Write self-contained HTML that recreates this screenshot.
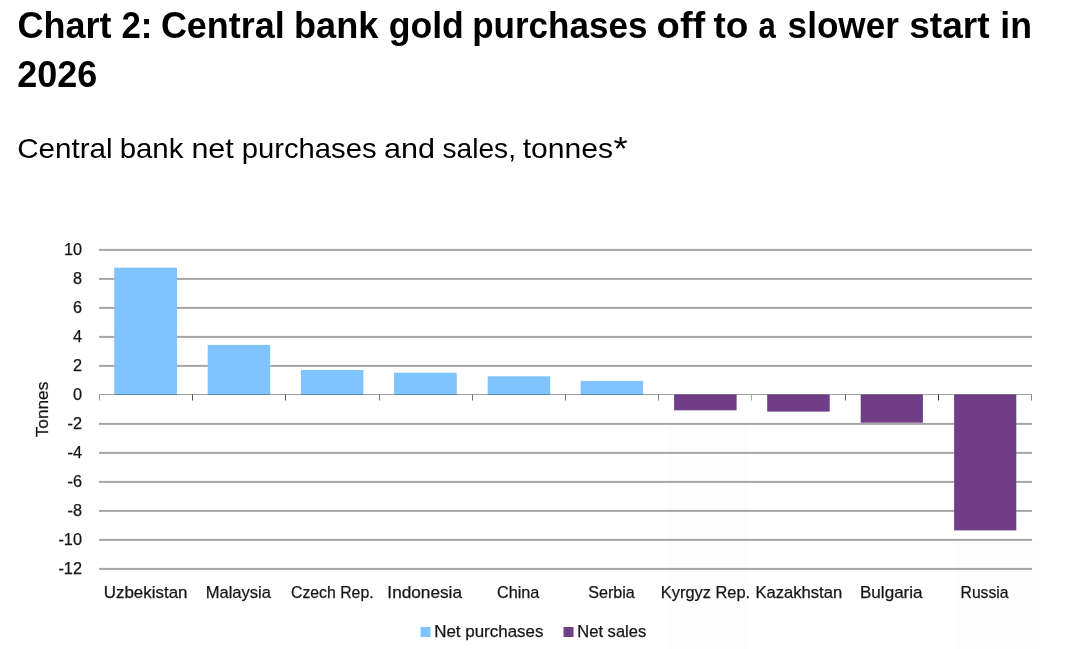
<!DOCTYPE html>
<html><head><meta charset="utf-8"><title>Chart 2</title>
<style>
html,body{margin:0;padding:0;background:#fff;}
body{width:1067px;height:649px;overflow:hidden;font-family:"Liberation Sans",sans-serif;}
svg{display:block;position:absolute;left:0;top:0;will-change:transform;}
text{font-family:"Liberation Sans",sans-serif;}
</style></head><body>
<svg width="1067" height="649" viewBox="0 0 1067 649">
<rect x="0" y="0" width="1067" height="649" fill="#ffffff"/>
<rect x="667" y="423" width="81" height="226" fill="#fdfdfe"/>
<rect x="954" y="540" width="86" height="109" fill="#fdfdfe"/>
<text x="17.48" y="37.7" font-size="36.6" font-weight="700" fill="#000" textLength="94.00" lengthAdjust="spacingAndGlyphs">Chart</text>
<text x="121.41" y="37.7" font-size="36.6" font-weight="700" fill="#000" textLength="30.98" lengthAdjust="spacingAndGlyphs">2:</text>
<text x="160.88" y="37.7" font-size="36.6" font-weight="700" fill="#000" textLength="123.95" lengthAdjust="spacingAndGlyphs">Central</text>
<text x="294.04" y="37.7" font-size="36.6" font-weight="700" fill="#000" textLength="84.33" lengthAdjust="spacingAndGlyphs">bank</text>
<text x="388.69" y="37.7" font-size="36.6" font-weight="700" fill="#000" textLength="75.19" lengthAdjust="spacingAndGlyphs">gold</text>
<text x="472.21" y="37.7" font-size="36.6" font-weight="700" fill="#000" textLength="175.21" lengthAdjust="spacingAndGlyphs">purchases</text>
<text x="656.61" y="37.7" font-size="36.6" font-weight="700" fill="#000" textLength="48.68" lengthAdjust="spacingAndGlyphs">off</text>
<text x="713.50" y="37.7" font-size="36.6" font-weight="700" fill="#000" textLength="34.91" lengthAdjust="spacingAndGlyphs">to</text>
<text x="758.51" y="37.7" font-size="36.6" font-weight="700" fill="#000" textLength="17.29" lengthAdjust="spacingAndGlyphs">a</text>
<text x="787.60" y="37.7" font-size="36.6" font-weight="700" fill="#000" textLength="111.30" lengthAdjust="spacingAndGlyphs">slower</text>
<text x="909.24" y="37.7" font-size="36.6" font-weight="700" fill="#000" textLength="80.44" lengthAdjust="spacingAndGlyphs">start</text>
<text x="1000.27" y="37.7" font-size="36.6" font-weight="700" fill="#000" textLength="31.65" lengthAdjust="spacingAndGlyphs">in</text>
<text x="17.28" y="86.9" font-size="36.6" font-weight="700" fill="#000" textLength="80.02" lengthAdjust="spacingAndGlyphs">2026</text>
<text x="17.21" y="157.6" font-size="28.3" font-weight="400" fill="#000" textLength="95.44" lengthAdjust="spacingAndGlyphs">Central</text>
<text x="119.66" y="157.6" font-size="28.3" font-weight="400" fill="#000" textLength="63.78" lengthAdjust="spacingAndGlyphs">bank</text>
<text x="191.40" y="157.6" font-size="28.3" font-weight="400" fill="#000" textLength="42.30" lengthAdjust="spacingAndGlyphs">net</text>
<text x="241.77" y="157.6" font-size="28.3" font-weight="400" fill="#000" textLength="134.74" lengthAdjust="spacingAndGlyphs">purchases</text>
<text x="384.05" y="157.6" font-size="28.3" font-weight="400" fill="#000" textLength="50.97" lengthAdjust="spacingAndGlyphs">and</text>
<text x="442.56" y="157.6" font-size="28.3" font-weight="400" fill="#000" textLength="73.44" lengthAdjust="spacingAndGlyphs">sales,</text>
<text x="522.70" y="157.6" font-size="28.3" font-weight="400" fill="#000" textLength="90.34" lengthAdjust="spacingAndGlyphs">tonnes</text>
<text x="613.53" y="159.7" font-size="32.6" font-weight="400" fill="#000" textLength="14.19" lengthAdjust="spacingAndGlyphs">*</text>
<text x="103.74" y="597.6" font-size="16.3" font-weight="400" fill="#161616" stroke="#161616" stroke-width="0.25" textLength="83.81" lengthAdjust="spacingAndGlyphs">Uzbekistan</text>
<text x="205.71" y="597.6" font-size="16.3" font-weight="400" fill="#161616" stroke="#161616" stroke-width="0.25" textLength="65.29" lengthAdjust="spacingAndGlyphs">Malaysia</text>
<text x="290.96" y="597.6" font-size="16.3" font-weight="400" fill="#161616" stroke="#161616" stroke-width="0.25" textLength="82.67" lengthAdjust="spacingAndGlyphs">Czech Rep.</text>
<text x="387.36" y="597.6" font-size="16.3" font-weight="400" fill="#161616" stroke="#161616" stroke-width="0.25" textLength="74.64" lengthAdjust="spacingAndGlyphs">Indonesia</text>
<text x="496.94" y="597.6" font-size="16.3" font-weight="400" fill="#161616" stroke="#161616" stroke-width="0.25" textLength="42.46" lengthAdjust="spacingAndGlyphs">China</text>
<text x="588.20" y="597.6" font-size="16.3" font-weight="400" fill="#161616" stroke="#161616" stroke-width="0.25" textLength="46.60" lengthAdjust="spacingAndGlyphs">Serbia</text>
<text x="660.82" y="597.6" font-size="16.3" font-weight="400" fill="#161616" stroke="#161616" stroke-width="0.25" textLength="89.36" lengthAdjust="spacingAndGlyphs">Kyrgyz Rep.</text>
<text x="755.40" y="597.6" font-size="16.3" font-weight="400" fill="#161616" stroke="#161616" stroke-width="0.25" textLength="86.73" lengthAdjust="spacingAndGlyphs">Kazakhstan</text>
<text x="859.97" y="597.6" font-size="16.3" font-weight="400" fill="#161616" stroke="#161616" stroke-width="0.25" textLength="62.63" lengthAdjust="spacingAndGlyphs">Bulgaria</text>
<text x="960.58" y="597.6" font-size="16.3" font-weight="400" fill="#161616" stroke="#161616" stroke-width="0.25" textLength="47.93" lengthAdjust="spacingAndGlyphs">Russia</text>
<text x="434.18" y="636.6" font-size="16.3" font-weight="400" fill="#161616" stroke="#161616" stroke-width="0.25" textLength="109.25" lengthAdjust="spacingAndGlyphs">Net purchases</text>
<text x="577.31" y="636.6" font-size="16.3" font-weight="400" fill="#161616" stroke="#161616" stroke-width="0.25" textLength="68.91" lengthAdjust="spacingAndGlyphs">Net sales</text>
<rect x="99.0" y="248.9" width="933.0" height="2" fill="#a6a6a6"/>
<rect x="99.0" y="277.9" width="933.0" height="2" fill="#a6a6a6"/>
<rect x="99.0" y="306.9" width="933.0" height="2" fill="#a6a6a6"/>
<rect x="99.0" y="335.9" width="933.0" height="2" fill="#a6a6a6"/>
<rect x="99.0" y="364.9" width="933.0" height="2" fill="#a6a6a6"/>
<rect x="99.0" y="422.9" width="933.0" height="2" fill="#a6a6a6"/>
<rect x="99.0" y="451.9" width="933.0" height="2" fill="#a6a6a6"/>
<rect x="99.0" y="480.9" width="933.0" height="2" fill="#a6a6a6"/>
<rect x="99.0" y="509.9" width="933.0" height="2" fill="#a6a6a6"/>
<rect x="99.0" y="538.9" width="933.0" height="2" fill="#a6a6a6"/>
<rect x="99.0" y="567.9" width="933.0" height="2" fill="#a6a6a6"/>
<rect x="114.2" y="267.7" width="62.8" height="127.3" fill="#7fc4fd"/>
<rect x="207.7" y="344.9" width="62.5" height="50.1" fill="#7fc4fd"/>
<rect x="300.9" y="369.9" width="62.5" height="25.1" fill="#7fc4fd"/>
<rect x="394.0" y="372.7" width="62.8" height="22.3" fill="#7fc4fd"/>
<rect x="487.7" y="376.3" width="62.5" height="18.7" fill="#7fc4fd"/>
<rect x="580.6" y="380.9" width="62.5" height="14.1" fill="#7fc4fd"/>
<rect x="674.1" y="394.3" width="62.5" height="16.0" fill="#703d87"/>
<rect x="767.2" y="394.3" width="62.5" height="17.3" fill="#703d87"/>
<rect x="860.7" y="394.3" width="62.2" height="28.4" fill="#703d87"/>
<rect x="954.1" y="394.3" width="62.2" height="136.1" fill="#703d87"/>
<rect x="99.0" y="394" width="15.2" height="1" fill="#000" fill-opacity="0.37"/>
<rect x="114.2" y="394" width="62.8" height="1" fill="#000" fill-opacity="0.3"/>
<rect x="177.0" y="394" width="30.7" height="1" fill="#000" fill-opacity="0.37"/>
<rect x="207.7" y="394" width="62.5" height="1" fill="#000" fill-opacity="0.3"/>
<rect x="270.2" y="394" width="30.7" height="1" fill="#000" fill-opacity="0.37"/>
<rect x="300.9" y="394" width="62.5" height="1" fill="#000" fill-opacity="0.3"/>
<rect x="363.4" y="394" width="30.6" height="1" fill="#000" fill-opacity="0.37"/>
<rect x="394.0" y="394" width="62.8" height="1" fill="#000" fill-opacity="0.3"/>
<rect x="456.8" y="394" width="30.9" height="1" fill="#000" fill-opacity="0.37"/>
<rect x="487.7" y="394" width="62.5" height="1" fill="#000" fill-opacity="0.3"/>
<rect x="550.2" y="394" width="30.4" height="1" fill="#000" fill-opacity="0.37"/>
<rect x="580.6" y="394" width="62.5" height="1" fill="#000" fill-opacity="0.3"/>
<rect x="643.1" y="394" width="31.0" height="1" fill="#000" fill-opacity="0.37"/>
<rect x="674.1" y="394.5" width="62.5" height="1" fill="#000" fill-opacity="0.18"/>
<rect x="736.6" y="394" width="30.6" height="1" fill="#000" fill-opacity="0.37"/>
<rect x="767.2" y="394.5" width="62.5" height="1" fill="#000" fill-opacity="0.18"/>
<rect x="829.7" y="394" width="31.0" height="1" fill="#000" fill-opacity="0.37"/>
<rect x="860.7" y="394.5" width="62.2" height="1" fill="#000" fill-opacity="0.18"/>
<rect x="922.9" y="394" width="31.2" height="1" fill="#000" fill-opacity="0.37"/>
<rect x="954.1" y="394.5" width="62.2" height="1" fill="#000" fill-opacity="0.18"/>
<rect x="1016.3" y="394" width="15.7" height="1" fill="#000" fill-opacity="0.37"/>
<rect x="99" y="394.5" width="1" height="6" fill="#9a9a9a"/>
<rect x="192" y="394.5" width="1" height="6" fill="#555"/>
<rect x="285" y="394.5" width="1" height="6" fill="#555"/>
<rect x="379" y="394.5" width="1" height="6" fill="#777"/>
<rect x="472" y="394.5" width="1" height="6" fill="#777"/>
<rect x="565" y="394.5" width="1" height="6" fill="#777"/>
<rect x="658" y="394.5" width="1" height="6" fill="#888"/>
<rect x="751" y="394.5" width="1" height="6" fill="#aaa"/>
<rect x="845" y="394.5" width="1" height="6" fill="#666"/>
<rect x="938" y="394.5" width="1" height="6" fill="#333"/>
<rect x="1031" y="394.5" width="1" height="6" fill="#888"/>
<text x="82.0" y="254.8" font-size="16.3" text-anchor="end" fill="#161616" stroke="#161616" stroke-width="0.25">10</text>
<text x="82.0" y="283.8" font-size="16.3" text-anchor="end" fill="#161616" stroke="#161616" stroke-width="0.25">8</text>
<text x="82.0" y="312.8" font-size="16.3" text-anchor="end" fill="#161616" stroke="#161616" stroke-width="0.25">6</text>
<text x="82.0" y="341.8" font-size="16.3" text-anchor="end" fill="#161616" stroke="#161616" stroke-width="0.25">4</text>
<text x="82.0" y="370.8" font-size="16.3" text-anchor="end" fill="#161616" stroke="#161616" stroke-width="0.25">2</text>
<text x="82.0" y="399.8" font-size="16.3" text-anchor="end" fill="#161616" stroke="#161616" stroke-width="0.25">0</text>
<text x="82.0" y="428.8" font-size="16.3" text-anchor="end" fill="#161616" stroke="#161616" stroke-width="0.25">-2</text>
<text x="82.0" y="457.8" font-size="16.3" text-anchor="end" fill="#161616" stroke="#161616" stroke-width="0.25">-4</text>
<text x="82.0" y="486.8" font-size="16.3" text-anchor="end" fill="#161616" stroke="#161616" stroke-width="0.25">-6</text>
<text x="82.0" y="515.8" font-size="16.3" text-anchor="end" fill="#161616" stroke="#161616" stroke-width="0.25">-8</text>
<text x="82.0" y="544.8" font-size="16.3" text-anchor="end" fill="#161616" stroke="#161616" stroke-width="0.25">-10</text>
<text x="82.0" y="573.8" font-size="16.3" text-anchor="end" fill="#161616" stroke="#161616" stroke-width="0.25">-12</text>
<text transform="translate(48.4,409.5) rotate(-90)" font-size="16.3" text-anchor="middle" fill="#161616" stroke="#161616" stroke-width="0.25" textLength="55.5" lengthAdjust="spacingAndGlyphs">Tonnes</text>
<rect x="420.5" y="627" width="10" height="10" fill="#7fc4fd"/>
<rect x="563.5" y="627" width="10" height="10" fill="#703d87"/>
</svg>
</body></html>
